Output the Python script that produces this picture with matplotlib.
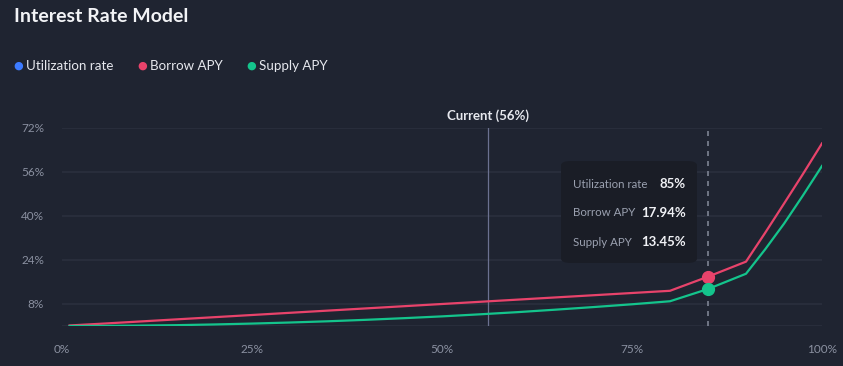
import matplotlib.pyplot as plt
from matplotlib.patches import FancyBboxPatch

plt.rcParams['font.family'] = ['Lato', 'DejaVu Sans']

# utilization (%) and rates (%)
util = [1, 5, 10, 15, 20, 25, 30, 35, 40, 45, 50, 55, 60, 65, 70, 75, 80, 85, 90,
        92.5, 95, 97.5, 100]
borrow_apy = [0.2, 0.8, 1.6, 2.4, 3.2, 4.0, 4.8, 5.6, 6.4, 7.2, 8.0, 8.8, 9.6, 10.4, 11.2,
              12.0, 12.8, 17.94, 23.4, 33.8, 44.5, 55.3, 66.4]
supply_apy = [0.0, 0.04, 0.14, 0.3, 0.56, 0.88, 1.27, 1.72, 2.25, 2.85, 3.5, 4.25, 5.05, 5.95,
              6.9, 7.9, 9.0, 13.45, 19.0, 27.8, 37.2, 47.5, 58.2]
current_util = 56
hover_util = 85
hover_borrow = 17.94
hover_supply = 13.45
yticks = [8, 24, 40, 56, 72]
xticks = [0, 25, 50, 75, 100]

BG = '#1f2431'
GRID = '#2b303e'
TICK = '#8b91a1'
RED = '#e8436b'
GREEN = '#14c48c'
BLUE = '#3d7bff'

W, H = 843, 366
fig = plt.figure(figsize=(W / 100, H / 100), dpi=100, facecolor=BG)


def px(x, y):
    return x / W, 1 - y / H


ax = fig.add_axes([62 / W, 40 / H, (822 - 62) / W, (326 - 128) / H])
ax.set_facecolor(BG)
ax.set_xlim(0, 100)
ax.set_ylim(0, 72)
for s in ax.spines.values():
    s.set_visible(False)
for yv in [0] + yticks:
    ax.axhline(yv, color=GRID, lw=1.2, zorder=0)
ax.set_yticks(yticks)
ax.set_yticklabels([f'{v}%' for v in yticks])
ax.set_xticks(xticks)
ax.set_xticklabels([f'{v}%' for v in xticks])
ax.tick_params(length=0, colors=TICK, labelsize=8.5)
ax.tick_params(axis='y', pad=13)
ax.tick_params(axis='x', pad=13)

ax.plot(util, borrow_apy, color=RED, lw=1.6, zorder=3)
ax.plot(util, supply_apy, color=GREEN, lw=1.6, zorder=3)

ax.axvline(current_util, color='#6b7190', lw=0.9, zorder=2)
ax.text(current_util, 74, f'Current ({current_util}%)', ha='center', va='bottom',
        color='#e6e8ee', fontsize=9.5, fontweight='bold', clip_on=False)
ax.axvline(hover_util, color='#7d8393', lw=1.2, ls=(0, (3, 3)), zorder=2)
ax.plot([hover_util], [hover_borrow], 'o', color=RED, ms=8.5, zorder=4)
ax.plot([hover_util], [hover_supply], 'o', color=GREEN, ms=8.5, zorder=4)

# tooltip
x0, y0 = px(561, 263)
x1, y1 = px(697, 161)
box = FancyBboxPatch((x0, y0), x1 - x0, y1 - y0, boxstyle='round,pad=0,rounding_size=0.012',
                     transform=fig.transFigure, facecolor='#1a1d26', edgecolor='none', zorder=5)
fig.patches.append(box)
rows = [('Utilization rate', f'{hover_util}%', 184),
        ('Borrow APY', f'{hover_borrow}%', 213),
        ('Supply APY', f'{hover_supply}%', 242)]
for lab, val, yy in rows:
    fig.text(*px(573, yy), lab, color='#9ba1b0', fontsize=8.3, va='center', ha='left', zorder=6)
    fig.text(*px(686, yy), val, color='#f0f1f5', fontsize=9.5, fontweight='bold',
             va='center', ha='right', zorder=6)

# title and legend
fig.text(*px(14, 17), 'Interest Rate Model', color='#f2f3f6', fontsize=14,
         fontweight='bold', va='center', ha='left')
legend = [('Utilization rate', BLUE, 18), ('Borrow APY', RED, 142), ('Supply APY', GREEN, 251)]
for lab, col, xx in legend:
    fig.text(*px(xx, 66), '●', color=col, fontsize=8, va='center', ha='center',
             family='DejaVu Sans')
    fig.text(*px(xx + 8, 66), lab, color='#e6e8ee', fontsize=9.6, va='center', ha='left')

fig.savefig('out.png', dpi=100, facecolor=BG)
